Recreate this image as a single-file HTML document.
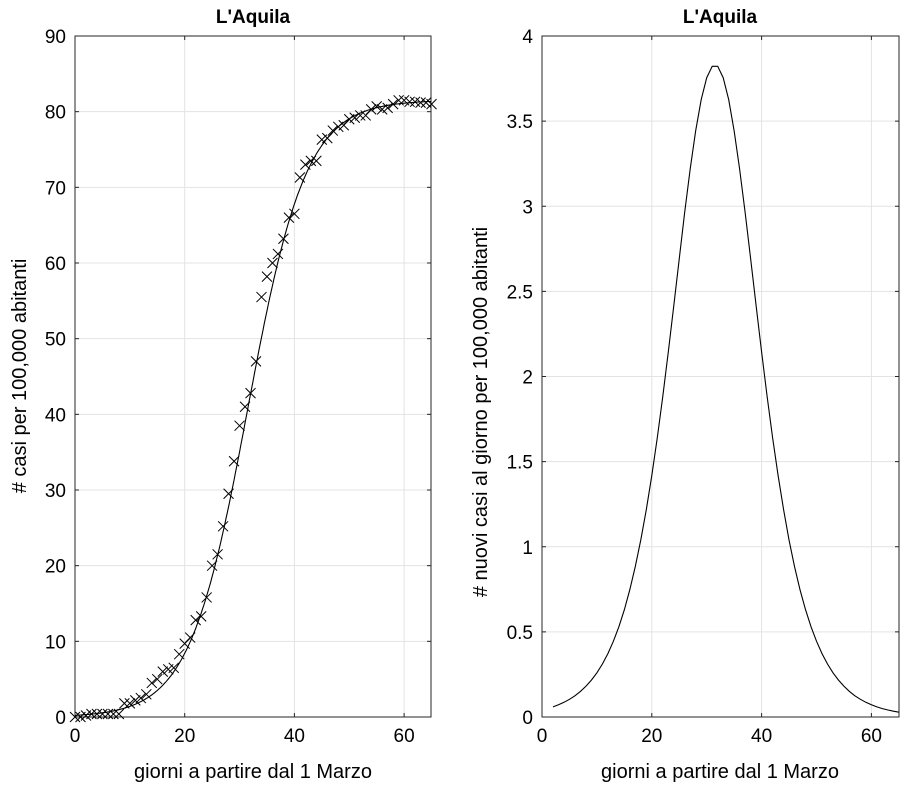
<!DOCTYPE html>
<html><head><meta charset="utf-8"><style>body{margin:0;background:#fff}svg{display:block}text{font-family:"Liberation Sans",Arial,sans-serif;fill:#000}</style></head>
<body><svg id="s" width="920" height="790" xmlns="http://www.w3.org/2000/svg"></svg>
<script>
const S=document.getElementById('s');let h='';
const K=81.5,r=0.188,t0=31.5;
const L={x0:75,x1:431,y0:717,y1:36},R={x0:542,x1:899,y0:717,y1:36};
const sxL=v=>L.x0+v*5.485, syL=v=>L.y0-v*(681/90);
const sxR=v=>R.x0+v*5.49, syR=v=>R.y0-v*(681/4);
function axes(A,xt,yt,ymax,sx,sy,fmt){
 for(const t of xt){const x=sx(t);h+=`<line x1="${x}" y1="${A.y1}" x2="${x}" y2="${A.y0}" stroke="#e3e3e3"/>`;}
 for(const t of yt){const y=sy(t);h+=`<line x1="${A.x0}" y1="${y}" x2="${A.x1}" y2="${y}" stroke="#e3e3e3"/>`;}
 h+=`<rect x="${A.x0}" y="${A.y1}" width="${A.x1-A.x0}" height="${A.y0-A.y1}" fill="none" stroke="#262626"/>`;
 for(const t of xt){const x=sx(t);h+=`<line x1="${x}" y1="${A.y0}" x2="${x}" y2="${A.y0-4}" stroke="#262626"/><line x1="${x}" y1="${A.y1}" x2="${x}" y2="${A.y1+4}" stroke="#262626"/><text x="${x}" y="${A.y0+25}" font-size="19" text-anchor="middle">${t}</text>`;}
 for(const t of yt){const y=sy(t);h+=`<line x1="${A.x0}" y1="${y}" x2="${A.x0+4}" y2="${y}" stroke="#262626"/><line x1="${A.x1}" y1="${y}" x2="${A.x1-4}" y2="${y}" stroke="#262626"/><text x="${A.x0-9}" y="${y+7}" font-size="19" text-anchor="end">${t}</text>`;}
}
axes(L,[0,20,40,60],[0,10,20,30,40,50,60,70,80,90],90,sxL,syL);
axes(R,[0,20,40,60],[0,0.5,1,1.5,2,2.5,3,3.5,4],4,sxR,syR);
let p='';for(let x=0;x<=65.2;x+=0.25){const y=K/(1+Math.exp(-r*(x-t0)));p+=(p?'L':'M')+sxL(x).toFixed(1)+','+syL(y).toFixed(1);}
h+=`<path d="${p}" fill="none" stroke="#000" stroke-width="1.1"/>`;
const d=[0,0,0.2,0.4,0.4,0.4,0.4,0.4,0.4,1.8,1.8,2.2,2.5,3,4.5,5,6,6.3,6.5,8.3,9.7,10.5,12.8,13.3,15.8,20,21.5,25.2,29.5,33.8,38.5,41,42.8,47,55.5,58.2,60,61.2,63.2,66,66.5,71.3,73,73.5,73.5,76.3,76.5,77.5,78,78.2,79,79.2,79.5,79.5,80.3,80.7,80.3,80.5,81,81.5,81.5,81.3,81.3,81.2,81.2,81];
d.forEach((v,i)=>{const x=sxL(i),y=syL(v);h+=`<path d="M${x-5},${y-5}L${x+5},${y+5}M${x-5},${y+5}L${x+5},${y-5}" stroke="#000" stroke-width="1"/>`;});
p='';for(let x=2;x<=65;x+=1){const e=Math.exp(-r*(x-t0));const y=K*r*e/((1+e)*(1+e));p+=(p?'L':'M')+sxR(x).toFixed(1)+','+syR(y).toFixed(1);}
h+=`<path d="${p}" fill="none" stroke="#000" stroke-width="1.1"/>`;
h+=`<text x="253" y="23" font-size="19" font-weight="bold" text-anchor="middle">L'Aquila</text>`;
h+=`<text x="720" y="23" font-size="19" font-weight="bold" text-anchor="middle">L'Aquila</text>`;
h+=`<text x="253" y="778" font-size="20" text-anchor="middle">giorni a partire dal 1 Marzo</text>`;
h+=`<text x="720" y="778" font-size="20" text-anchor="middle">giorni a partire dal 1 Marzo</text>`;
h+=`<text transform="translate(26,376) rotate(-90)" font-size="20" text-anchor="middle"># casi per 100,000 abitanti</text>`;
h+=`<text transform="translate(487,412) rotate(-90)" font-size="20" text-anchor="middle"># nuovi casi al giorno per 100,000 abitanti</text>`;
S.innerHTML=h;
</script></body></html>
